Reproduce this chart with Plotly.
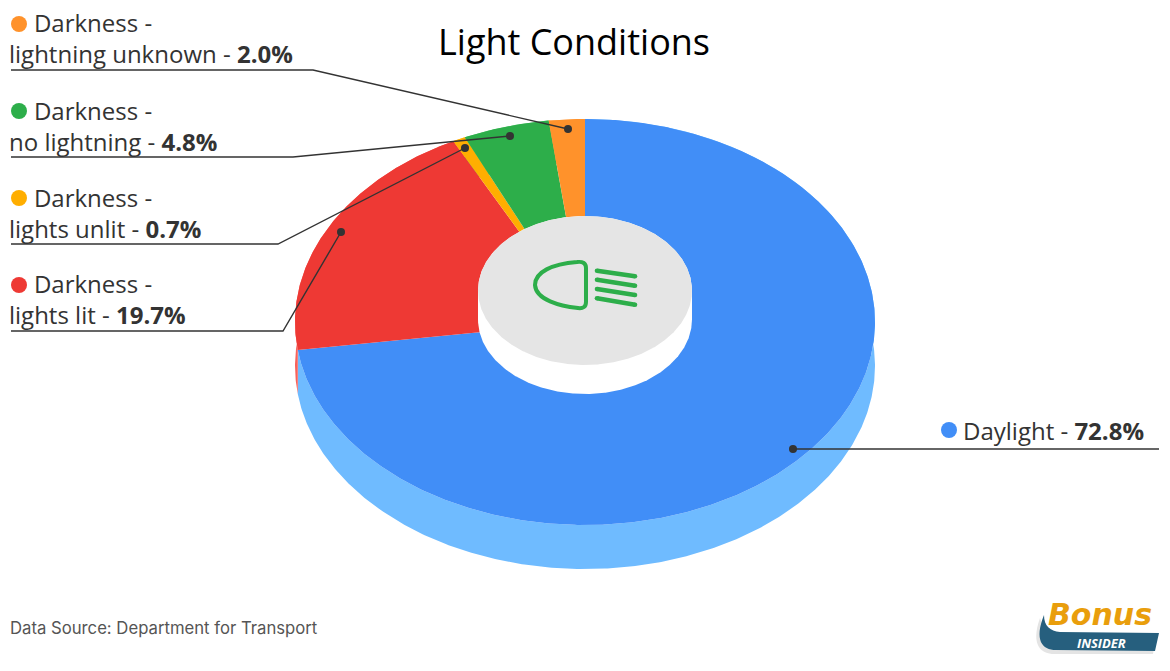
import math
import numpy as np
import plotly.graph_objects as go

CATEGORIES = ["Daylight", "Darkness - lights lit", "Darkness - lights unlit",
              "Darkness - no lightning", "Darkness - lightning unknown"]
VALUES = [72.8, 19.7, 0.7, 4.8, 2.0]
TOP_COLORS = ["#418EF7", "#EE3934", "#FFAE00", "#2DAE4A", "#FF922B"]
SIDE_COLORS = ["#6FBBFF", "#F7625C", "#FFC94D", "#5CC873", "#FFB066"]
TITLE = "Light Conditions"
SOURCE = "Data Source: Department for Transport"

W, H = 1170, 671
CX, CY, RX, RY = 585, 322, 290, 203
DEPTH = 44
HOLE = (585, 290.5, 107, 74.5)
HOLE_DEPTH = 29
DARK = "#333333"


def ux(px):
    return (px - CX) / RX


def uy(py):
    return (CY - py) / RY


fig = go.Figure()


def ell(a0, a1, cx=CX, cy=CY, rx=RX, ry=RY, step=0.5):
    n = max(2, int(abs(a1 - a0) / step) + 1)
    a = np.radians(np.linspace(a0, a1, n))
    return ux(cx + rx * np.sin(a)), uy(cy - ry * np.cos(a))


def fill(xs, ys, color):
    fig.add_trace(go.Scatter(x=list(xs), y=list(ys), mode="lines", fill="toself",
                             fillcolor=color, line=dict(width=0, color=color),
                             hoverinfo="skip", showlegend=False))


edges = np.cumsum([0] + VALUES) / sum(VALUES) * 360

# side wall
for i in range(len(VALUES)):
    x1, y1 = ell(edges[i], edges[i + 1])
    x2, y2 = ell(edges[i + 1], edges[i], cy=CY + DEPTH)
    fill(np.r_[x1, x2], np.r_[y1, y2], SIDE_COLORS[i])

# top faces
for i in range(len(VALUES)):
    x1, y1 = ell(edges[i], edges[i + 1])
    fill(np.r_[0, x1, 0], np.r_[0, y1, 0], TOP_COLORS[i])

# hole: white wall and grey cap
hx, hy, hrx, hry = HOLE
x1, y1 = ell(90, 270, hx, hy + HOLE_DEPTH, hrx, hry)
x2, y2 = ell(270, 450, hx, hy, hrx, hry)
fill(np.r_[x1, x2], np.r_[y1, y2], "#FFFFFF")
x3, y3 = ell(0, 360, hx, hy, hrx, hry)
fill(x3, y3, "#E5E5E5")


def px_line(pts, color=DARK, width=1.4, **kw):
    fig.add_trace(go.Scatter(x=[ux(p[0]) for p in pts], y=[uy(p[1]) for p in pts],
                             mode=kw.get("mode", "lines"),
                             line=dict(color=color, width=width),
                             marker=dict(color=color, size=width),
                             hoverinfo="skip", showlegend=False))


def dots(pts, colors, size):
    fig.add_trace(go.Scatter(x=[ux(p[0]) for p in pts], y=[uy(p[1]) for p in pts],
                             mode="markers", marker=dict(color=colors, size=size, line=dict(width=0)),
                             hoverinfo="skip", showlegend=False))


# leaders
px_line([(11, 70), (313, 70), (568, 129)])
px_line([(11, 157), (293, 157), (510, 136)])
px_line([(11, 244), (278, 244), (465, 148)])
px_line([(11, 331), (283, 331), (341, 232)])
px_line([(793, 449), (1159, 449)])
dots([(568, 129), (510, 136), (465, 148), (341, 232), (793, 449)], DARK, 8)

# legend dots
dots([(949, 430), (19, 285), (19, 198), (19, 111), (19, 24)], TOP_COLORS, 16)

# icon: beams
GREEN = TOP_COLORS[3]
for a, b in [((597, 270.7), (635, 276.3)), ((597, 279.7), (635, 285.7)),
             ((597, 289), (635, 295)), ((597, 298.3), (635, 304.7))]:
    px_line([a, b], color=GREEN, width=4.6, mode="lines+markers")


def pp(x, y):
    return f"{x / W:.5f},{1 - y / H:.5f}"


shapes = [
    dict(type="path", xref="paper", yref="paper",
         path=f"M{pp(577, 262)} Q{pp(586, 261)} {pp(586, 268)} L{pp(586, 302)} Q{pp(586, 309)} {pp(578, 308)} "
              f"C{pp(560, 306)} {pp(536, 300)} {pp(535, 285)} C{pp(535, 272)} {pp(552, 264)} {pp(577, 262)} Z",
         line=dict(color=GREEN, width=4), fillcolor="rgba(0,0,0,0)", layer="above"),
    # logo shadow and banner
    dict(type="path", xref="paper", yref="paper",
         path=f"M{pp(1040, 618)} C{pp(1044, 630)} {pp(1050, 634)} {pp(1060, 636)} L{pp(1156, 640)} L{pp(1153, 654)} "
              f"L{pp(1054, 654)} C{pp(1042, 654)} {pp(1030, 646)} {pp(1040, 618)} Z",
         line=dict(width=0), fillcolor="#E4E4E4", layer="above"),
    dict(type="path", xref="paper", yref="paper",
         path=f"M{pp(1044, 615)} C{pp(1044, 626)} {pp(1050, 631)} {pp(1060, 632)} L{pp(1159, 633)} L{pp(1155, 651)} "
              f"L{pp(1056, 650)} C{pp(1042, 650)} {pp(1034, 640)} {pp(1044, 615)} Z",
         line=dict(width=0), fillcolor="#265F7E", layer="above"),
]

annotations = []


def text(x, y, s, size, color=DARK, family="Open Sans", anchor="left"):
    annotations.append(dict(x=x / W, y=1 - y / H, xref="paper", yref="paper", text=s, showarrow=False,
                            xanchor=anchor, yanchor="middle", align="left",
                            font=dict(family=family, size=size, color=color),
                            borderpad=0, borderwidth=0))


text(574, 41.5, TITLE, 36, color="#000000", anchor="center")
text(10, 628, SOURCE, 16.7, color="#555555", family="Inter")

SIZE = 24
INDENT = "\u00a0" * 4
pct = [f"<b>{v:.1f}%</b>" for v in VALUES]
text(963, 430, f"{CATEGORIES[0]} - {pct[0]}", SIZE)
rows = [(1, 285), (2, 198), (3, 111), (4, 24)]
for i, y in rows:
    head, tail = CATEGORIES[i].split(" - ")
    text(9, y + 14.5, f"{INDENT}{head} -<br>{tail} - {pct[i]}", SIZE)

text(1100, 614, "<b><i>Bonus</i></b>", 30, color="#E99E0C", family="DejaVu Sans", anchor="center")
text(1101, 643, "<b><i>INSIDER</i></b>", 13, color="#FFFFFF", anchor="center")

fig.update_layout(
    width=W, height=H, margin=dict(l=0, r=0, t=0, b=0), autosize=False,
    paper_bgcolor="#FFFFFF", plot_bgcolor="#FFFFFF", showlegend=False,
    xaxis=dict(range=[ux(0), ux(W)], visible=False, fixedrange=True),
    yaxis=dict(range=[uy(H), uy(0)], visible=False, fixedrange=True),
    shapes=shapes, annotations=annotations,
)
fig.write_html("out.html", config={"displayModeBar": False},
               post_script="document.body.style.margin='0';document.body.style.overflow='hidden';")
